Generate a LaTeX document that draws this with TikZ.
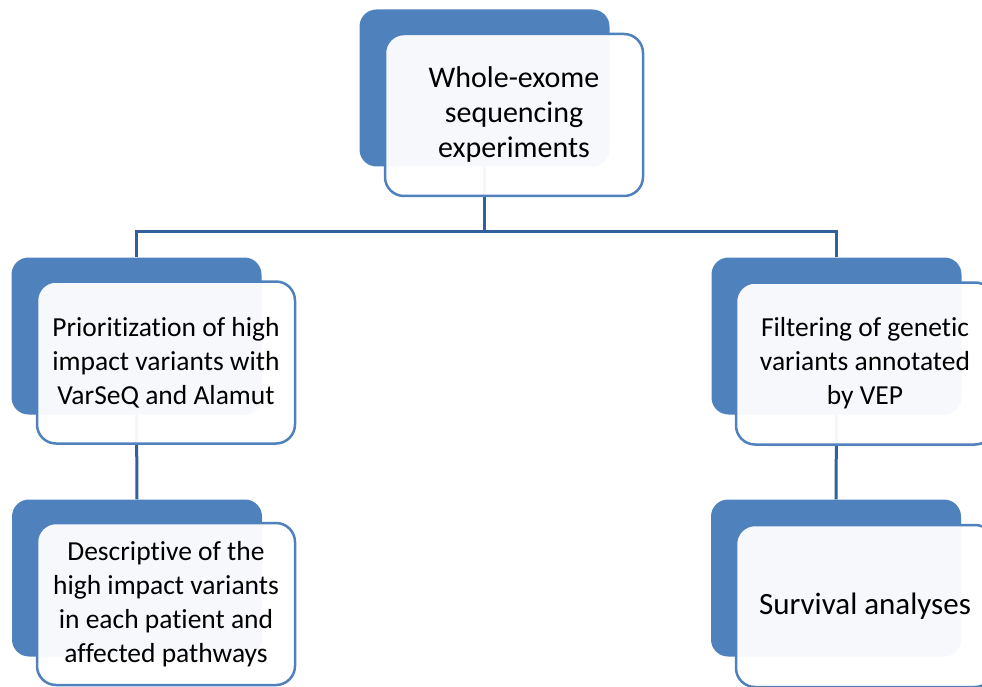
\documentclass[tikz,border=0pt]{standalone}
\usepackage{fontspec}
\setmainfont{Carlito}[Ligatures={CommonOff,ContextualOff}]
\usetikzlibrary{backgrounds}
\definecolor{boxblue}{RGB}{79,129,189}
\definecolor{linkblue}{RGB}{50,96,156}
\tikzset{
  backbox/.style={rectangle, rounded corners=17pt, fill=boxblue, draw=none,
    minimum width=250pt, minimum height=157pt, inner sep=0pt},
  frontbox/.style={rectangle, rounded corners=19pt, draw=boxblue, line width=2.5pt,
    fill=white, fill opacity=0.95, text opacity=1,
    minimum width=258pt, minimum height=162pt, inner sep=0pt, align=center,
    font=\fontsize{27.5}{34}\selectfont},
  link/.style={draw=linkblue, line width=3pt}
}
\begin{document}
\begin{tikzpicture}[x=1pt,y=-1pt]
\useasboundingbox (0,0) rectangle (982,687);
% back boxes
\node[backbox] (tbk) at (484.5,88) {};
\node[backbox] (lmbk) at (136.5,336) {};
\node[backbox] (rmbk) at (836.5,336) {};
\node[backbox] (lbbk) at (137,578) {};
\node[backbox] (rbbk) at (836,578) {};
% front boxes
\node[frontbox, font=\fontsize{30}{35}\selectfont] (t) at (514,115) {Whole-exome\\sequencing\\experiments};
\node[frontbox] (lm) at (166,362.5) {Prioritization of high\\impact variants with\\VarSeQ and Alamut};
\node[frontbox] (rm) at (865,363.5) {Filtering of genetic\\variants annotated\\by VEP};
\node[frontbox] (lb) at (166,604) {Descriptive of the\\high impact variants\\in each patient and\\affected pathways};
\node[frontbox, font=\fontsize{31}{36}\selectfont] (rb) at (865,606) {Survival analyses};
% connectors
\begin{pgfonlayer}{background}
\draw[link] (tbk.south) -- ++(0,65) coordinate (split) -| (lmbk.north);
\draw[link] (split) -| (rmbk.north);
\draw[link] (lmbk.south) -- (lbbk.north);
\draw[link] (rmbk.south) -- (rbbk.north);
\end{pgfonlayer}
\end{tikzpicture}
\end{document}
